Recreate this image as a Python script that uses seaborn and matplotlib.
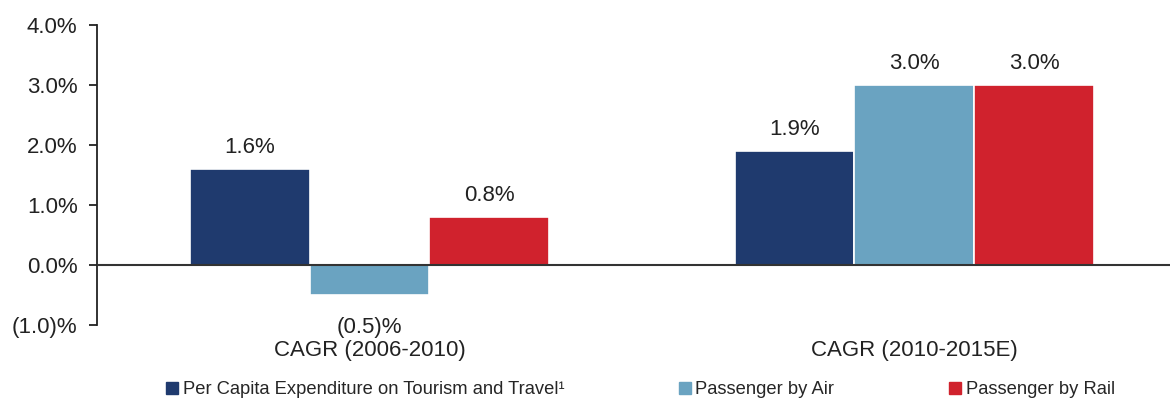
import matplotlib
matplotlib.use("Agg")
import matplotlib.pyplot as plt
import seaborn as sns
import pandas as pd
from matplotlib.patches import Patch

categories = ["CAGR (2006-2010)", "CAGR (2010-2015E)"]
series = ["Per Capita Expenditure on Tourism and Travel\u00b9", "Passenger by Air", "Passenger by Rail"]
expenditure = [1.6, 1.9]
air = [-0.5, 3.0]
rail = [0.8, 3.0]
colors = ["#1f3a6e", "#6aa3c1", "#d0222d"]
y_ticks = [-1.0, 0.0, 1.0, 2.0, 3.0, 4.0]

def fmt(v):
    return f"({abs(v):.1f})%" if v < 0 else f"{v:.1f}%"

rows = []
for s, vals in zip(series, [expenditure, air, rail]):
    for c, v in zip(categories, vals):
        rows.append({"category": c, "series": s, "value": v})
df = pd.DataFrame(rows)

sns.set_theme(style="white")
plt.rcParams["font.family"] = ["Liberation Sans", "DejaVu Sans"]

FS = 16
fig = plt.figure(figsize=(11.7, 4.0), dpi=100)
ax = fig.add_axes([97 / 1170, 75 / 400, 1 - 97 / 1170, 300 / 400])

sns.barplot(data=df, x="category", y="value", hue="series", order=categories,
            hue_order=series, palette=colors, saturation=1, width=0.66,
            edgecolor="white", linewidth=1.2, ax=ax, legend=False, errorbar=None)

for cont in ax.containers:
    vals = cont.datavalues
    ax.bar_label(cont, labels=[fmt(v) if v >= 0 else "" for v in vals], padding=8,
                 fontsize=FS, color="#222222")
    ax.bar_label(cont, labels=[fmt(v) if v < 0 else "" for v in vals], padding=16,
                 fontsize=FS, color="#222222")

ax.set_ylim(-1.0, 4.0)
ax.set_xlim(-0.5, 1.469)
ax.set_yticks(y_ticks)
ax.set_yticklabels([fmt(v) for v in y_ticks], fontsize=FS, color="#222222")
ax.axhline(0, color="#333333", linewidth=1.5, zorder=5)
ax.set_xlabel("")
ax.set_ylabel("")
for sp in ["top", "right", "bottom"]:
    ax.spines[sp].set_visible(False)
ax.spines["left"].set_color("#222222")
ax.spines["left"].set_linewidth(1.3)
ax.tick_params(axis="y", which="both", left=True, length=6, width=1.3, color="#222222", pad=8)
ax.tick_params(axis="x", length=0, pad=11, labelsize=FS, labelcolor="#222222")

handles = [Patch(facecolor=c, edgecolor=c) for c in colors]
fig.legend(handles, series, loc="lower center", bbox_to_anchor=(0.5474, -0.037), ncol=3,
           frameon=False, fontsize=13.2, handlelength=0.65, handleheight=0.65,
           handletextpad=0.25, columnspacing=6.25)

fig.savefig("out.png", dpi=100)
